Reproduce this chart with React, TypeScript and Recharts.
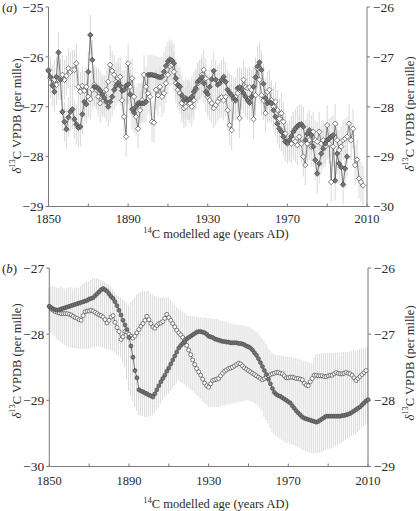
import React from 'react';
import { ComposedChart, Line, Bar, XAxis, YAxis, ErrorBar } from 'recharts';

// x axis
const YEAR_TICKS = [1850, 1870, 1890, 1910, 1930, 1950, 1970, 1990, 2010];
const YEAR_LABELS = [1850, 1890, 1930, 1970, 2010];

// panel (a) — annual values from 1850
const A_START = 1850;
const A_LEFT_TICKS = [-25, -26, -27, -28, -29];
const A_RIGHT_TICKS = [-26, -27, -28, -29, -30];
// filled diamonds, left axis (1850–2000)
const DARK_A = [
  -26.28, -26.40, -26.58, -26.70, -26.40, -25.91, -26.46, -27.10, -27.30, -27.45,
  -27.21, -27.10, -27.05, -27.25, -27.35, -27.42, -27.40, -27.15, -26.90, -26.95,
  -26.30, -25.56, -26.06, -26.60, -26.61, -26.63, -26.68, -26.75, -26.82, -26.90,
  -27.00, -26.90, -26.80, -26.66, -26.58, -26.52, -26.58, -26.68, -26.66, -26.58,
  -26.55, -26.75, -27.05, -27.12, -27.00, -26.93, -26.93, -26.93, -26.93, -26.90,
  -26.36, -26.36, -26.36, -26.37, -26.38, -26.40, -26.41, -26.40, -26.30, -26.18,
  -26.09, -26.05, -26.07, -26.13, -26.43, -26.56, -26.60, -26.77, -26.87, -26.83,
  -26.87, -26.85, -26.80, -26.70, -26.63, -26.50, -26.46, -26.41, -26.53, -26.70,
  -26.75, -26.60, -26.45, -26.28, -26.46, -26.56, -26.53, -26.46, -26.40, -26.50,
  -26.66, -26.72, -26.77, -26.83, -26.87, -26.63, -26.61, -26.66, -26.73, -26.80,
  -26.87, -26.92, -26.80, -26.60, -26.41, -26.19, -26.11, -26.26, -26.54, -26.83,
  -26.93, -26.90, -26.93, -27.07, -27.20, -27.34, -27.44, -27.50, -27.60, -27.70,
  -27.72, -27.67, -27.59, -27.50, -27.44, -27.39, -27.36, -27.35, -27.40, -27.67,
  -27.54, -27.47, -27.57, -27.80, -28.07, -28.34, -28.14, -27.94, -27.84, -27.74,
  -27.67, -27.64, -27.60, -27.57, -28.48, -27.94, -28.14, -28.21, -28.56, -28.24,
  -28.00,
];
// open diamonds, right axis (1850–2008)
const OPEN_A = [
  -27.26, -27.43, -27.56, -27.46, -27.56, -27.46, -27.43, -27.36, -27.46, -27.38,
  -27.23, -27.30, -27.26, -27.26, -27.13, -27.60, -27.70, -27.58, -27.68, -27.60,
  -27.80, -27.85, -27.66, -27.56, -27.66, -27.80, -27.93, -27.81, -27.77, -27.66,
  -27.50, -27.16, -27.28, -27.36, -27.50, -27.43, -27.40, -27.87, -28.20, -28.60,
  -27.13, -27.60, -27.43, -27.80, -28.20, -28.44, -28.07, -27.87, -27.36, -27.60,
  -27.73, -27.80, -28.30, -28.32, -27.66, -27.77, -27.60, -27.80, -27.73, -27.53,
  -27.36, -27.19, -27.16, -27.30, -27.53, -27.66, -27.73, -27.93, -28.03, -28.00,
  -27.87, -27.93, -28.00, -27.87, -27.66, -27.53, -27.46, -27.36, -27.26, -27.43,
  -27.80, -27.87, -27.93, -28.03, -27.97, -27.90, -27.83, -27.81, -27.87, -27.80,
  -28.07, -28.37, -28.47, -27.87, -27.80, -27.73, -28.23, -27.63, -27.46, -27.60,
  -27.63, -27.61, -27.66, -28.25, -27.77, -27.23, -27.46, -27.77, -27.87, -28.13,
  -27.70, -27.66, -27.87, -28.00, -27.90, -28.07, -28.24, -28.13, -28.30, -28.54,
  -28.74, -28.70, -28.74, -28.66, -28.70, -28.77, -28.60, -28.74, -29.00, -29.17,
  -28.74, -28.67, -28.80, -28.50, -28.67, -28.70, -28.50, -28.74, -28.67, -28.80,
  -28.37, -28.74, -29.51, -28.80, -28.34, -28.67, -28.87, -28.80, -28.67, -28.64,
  -28.60, -28.34, -28.67, -28.44, -29.17, -29.06, -29.44, -29.51, -29.58,
];
// analytical uncertainty (per mille)
const ERR_A = 0.4;

// panel (b) — annual values from 1850
const B_START = 1850;
const B_LEFT_TICKS = [-27, -28, -29, -30];
const B_RIGHT_TICKS = [-26, -27, -28, -29];
// filled circles, left axis (1850–2010)
const DARK_B = [
  -27.58, -27.60, -27.62, -27.63, -27.64, -27.63, -27.62, -27.61, -27.60, -27.59,
  -27.58, -27.57, -27.56, -27.55, -27.54, -27.53, -27.52, -27.51, -27.50, -27.49,
  -27.47, -27.46, -27.45, -27.42, -27.39, -27.36, -27.33, -27.31, -27.33, -27.35,
  -27.39, -27.43, -27.46, -27.51, -27.57, -27.64, -27.71, -27.79, -27.86, -27.93,
  -28.05, -28.18, -28.35, -28.55, -28.66, -28.84, -28.86, -28.87, -28.89, -28.90,
  -28.92, -28.93, -28.95, -28.90, -28.84, -28.78, -28.72, -28.67, -28.62, -28.56,
  -28.51, -28.45, -28.39, -28.33, -28.27, -28.21, -28.17, -28.14, -28.11, -28.07,
  -28.05, -28.03, -28.01, -27.99, -27.97, -27.96, -27.96, -27.97, -27.98, -28.00,
  -28.03, -28.04, -28.05, -28.07, -28.08, -28.09, -28.10, -28.11, -28.11, -28.12,
  -28.12, -28.13, -28.13, -28.13, -28.13, -28.14, -28.14, -28.15, -28.16, -28.18,
  -28.19, -28.21, -28.24, -28.28, -28.32, -28.37, -28.43, -28.49, -28.55, -28.61,
  -28.68, -28.75, -28.82, -28.88, -28.91, -28.93, -28.94, -28.96, -28.98, -29.00,
  -29.02, -29.04, -29.08, -29.12, -29.16, -29.19, -29.22, -29.25, -29.27, -29.28,
  -29.29, -29.30, -29.31, -29.32, -29.33, -29.32, -29.30, -29.28, -29.26, -29.24,
  -29.24, -29.24, -29.24, -29.24, -29.24, -29.24, -29.24, -29.23, -29.23, -29.22,
  -29.21, -29.20, -29.18, -29.16, -29.14, -29.12, -29.10, -29.07, -29.04, -29.01,
  -28.99,
];
// open circles, right axis (1850–2009)
const OPEN_B = [
  -26.58, -26.62, -26.64, -26.66, -26.67, -26.68, -26.69, -26.69, -26.69, -26.69,
  -26.70, -26.71, -26.73, -26.75, -26.76, -26.78, -26.79, -26.72, -26.66, -26.65,
  -26.65, -26.64, -26.65, -26.67, -26.69, -26.71, -26.72, -26.74, -26.78, -26.83,
  -26.79, -26.74, -26.72, -26.82, -26.90, -26.96, -27.08, -27.04, -26.96, -26.97,
  -27.00, -27.03, -27.06, -27.03, -26.98, -26.93, -26.88, -26.84, -26.79, -26.73,
  -26.78, -26.84, -26.89, -26.91, -26.87, -26.84, -26.83, -26.81, -26.76, -26.70,
  -26.75, -26.79, -26.84, -26.89, -26.94, -26.98, -27.01, -27.05, -27.09, -27.17,
  -27.24, -27.31, -27.39, -27.46, -27.52, -27.57, -27.62, -27.68, -27.74, -27.78,
  -27.80, -27.75, -27.70, -27.69, -27.68, -27.67, -27.63, -27.59, -27.56, -27.54,
  -27.52, -27.51, -27.50, -27.48, -27.46, -27.44, -27.45, -27.48, -27.51, -27.53,
  -27.55, -27.57, -27.59, -27.61, -27.63, -27.65, -27.67, -27.69, -27.67, -27.65,
  -27.63, -27.61, -27.60, -27.59, -27.58, -27.58, -27.59, -27.60, -27.63, -27.66,
  -27.66, -27.65, -27.65, -27.66, -27.67, -27.67, -27.68, -27.69, -27.74, -27.77,
  -27.78, -27.72, -27.67, -27.62, -27.62, -27.63, -27.63, -27.63, -27.64, -27.64,
  -27.63, -27.62, -27.62, -27.60, -27.58, -27.59, -27.60, -27.60, -27.59, -27.58,
  -27.59, -27.60, -27.62, -27.66, -27.70, -27.67, -27.64, -27.61, -27.58, -27.55,
];
// grey uncertainty envelope, left axis (1850–2010)
const BAND_B_HI = [
  -27.30, -27.28, -27.27, -27.29, -27.30, -27.30, -27.28, -27.30, -27.31, -27.30,
  -27.30, -27.29, -27.31, -27.30, -27.29, -27.30, -27.27, -27.24, -27.22, -27.20,
  -27.20, -27.18, -27.16, -27.15, -27.16, -27.16, -27.18, -27.20, -27.22, -27.24,
  -27.25, -27.28, -27.32, -27.36, -27.40, -27.42, -27.45, -27.48, -27.50, -27.53,
  -27.55, -27.52, -27.48, -27.45, -27.40, -27.38, -27.36, -27.35, -27.35, -27.35,
  -27.35, -27.38, -27.40, -27.42, -27.44, -27.45, -27.45, -27.45, -27.45, -27.45,
  -27.45, -27.48, -27.52, -27.56, -27.59, -27.62, -27.64, -27.66, -27.68, -27.70,
  -27.72, -27.72, -27.73, -27.73, -27.74, -27.74, -27.74, -27.75, -27.75, -27.75,
  -27.75, -27.76, -27.76, -27.77, -27.77, -27.78, -27.79, -27.80, -27.81, -27.81,
  -27.82, -27.83, -27.84, -27.85, -27.85, -27.86, -27.86, -27.87, -27.87, -27.88,
  -27.88, -27.90, -27.92, -27.94, -27.96, -27.98, -28.02, -28.06, -28.10, -28.15,
  -28.20, -28.24, -28.28, -28.30, -28.31, -28.32, -28.32, -28.33, -28.33, -28.34,
  -28.34, -28.35, -28.35, -28.36, -28.36, -28.37, -28.38, -28.39, -28.40, -28.41,
  -28.42, -28.44, -28.44, -28.36, -28.31, -28.30, -28.30, -28.29, -28.29, -28.29,
  -28.29, -28.29, -28.28, -28.28, -28.28, -28.28, -28.28, -28.27, -28.27, -28.27,
  -28.27, -28.26, -28.26, -28.25, -28.25, -28.24, -28.23, -28.22, -28.22, -28.21,
  -28.20,
];
const BAND_B_LO = [
  -27.95, -27.98, -28.01, -28.04, -28.07, -28.10, -28.12, -28.14, -28.16, -28.18,
  -28.20, -28.20, -28.21, -28.21, -28.22, -28.22, -28.22, -28.22, -28.22, -28.22,
  -28.22, -28.21, -28.20, -28.19, -28.18, -28.18, -28.19, -28.20, -28.21, -28.22,
  -28.22, -28.24, -28.26, -28.28, -28.30, -28.32, -28.36, -28.42, -28.50, -28.68,
  -28.85, -28.93, -29.01, -29.10, -29.16, -29.22, -29.23, -29.24, -29.25, -29.25,
  -29.25, -29.24, -29.22, -29.20, -29.15, -29.10, -29.05, -29.00, -28.96, -28.93,
  -28.90, -28.86, -28.82, -28.78, -28.74, -28.70, -28.72, -28.74, -28.76, -28.78,
  -28.80, -28.83, -28.86, -28.89, -28.92, -28.95, -28.98, -29.01, -29.04, -29.07,
  -29.10, -29.10, -29.10, -29.10, -29.10, -29.10, -29.09, -29.08, -29.08, -29.07,
  -29.06, -29.06, -29.05, -29.04, -29.04, -29.03, -29.02, -29.02, -29.01, -29.00,
  -29.00, -29.01, -29.02, -29.04, -29.06, -29.08, -29.12, -29.16, -29.25, -29.30,
  -29.35, -29.42, -29.48, -29.51, -29.54, -29.56, -29.58, -29.60, -29.62, -29.64,
  -29.65, -29.66, -29.67, -29.68, -29.69, -29.70, -29.72, -29.74, -29.76, -29.77,
  -29.78, -29.79, -29.80, -29.80, -29.80, -29.80, -29.79, -29.78, -29.76, -29.75,
  -29.74, -29.73, -29.72, -29.70, -29.69, -29.68, -29.66, -29.64, -29.62, -29.60,
  -29.58, -29.56, -29.54, -29.52, -29.50, -29.48, -29.45, -29.42, -29.39, -29.37,
  -29.35,
];

const darkARows = DARK_A.map((v, i) => ({ year: A_START + i, v, err: ERR_A }));
const openARows = OPEN_A.map((v, i) => ({ year: A_START + i, v, err: ERR_A }));
const bandRows = BAND_B_HI.map((hi, i) => ({ year: B_START + i, band: [BAND_B_LO[i], hi] }));
const darkBRows = DARK_B.map((v, i) => ({ year: B_START + i, v }));
const openBRows = OPEN_B.map((v, i) => ({ year: B_START + i, v }));

const FONT = '"Liberation Serif", "Times New Roman", serif';
const AXIS = '#7a7a7a';
const INK = '#2a2a2a';
const Y_TICK = { fill: INK, fontSize: 13.5, fontFamily: FONT };
const X_TICK = { fill: INK, fontSize: 12.5, fontFamily: FONT };
const minus = (v: number) => String(v).replace('-', '\u2212');
const yearFmt = (v: number) => (YEAR_LABELS.includes(v) ? String(v) : '');

const diamond = (fill: string, stroke: string) => (p: any) => {
  const { cx, cy, index } = p;
  if (cx == null || cy == null) return <g key={index} />;
  const r = 2.7;
  return (
    <path
      key={index}
      d={`M${cx},${cy - r}L${cx + r},${cy}L${cx},${cy + r}L${cx - r},${cy}Z`}
      fill={fill}
      stroke={stroke}
      strokeWidth={0.7}
    />
  );
};

function YTitle({ x, y }: { x: number; y: number }) {
  return (
    <text
      transform={`translate(${x},${y}) rotate(-90)`}
      textAnchor="middle"
      fontFamily={FONT}
      fontSize={12.5}
      fill={INK}
      dominantBaseline="central"
    >
      <tspan fontStyle="italic">δ</tspan>
      <tspan baselineShift="super" fontSize={8.5}>13</tspan>
      <tspan>C VPDB (per mille)</tspan>
    </text>
  );
}

function XTitle({ y }: { y: number }) {
  return (
    <text x={216} y={y} textAnchor="middle" fontFamily={FONT} fontSize={12.5} fill={INK}>
      <tspan baselineShift="super" fontSize={8.5}>14</tspan>
      <tspan>C modelled age (years AD)</tspan>
    </text>
  );
}

function PanelTag({ y, letter }: { y: number; letter: string }) {
  return (
    <text x={2} y={y} fontFamily={FONT} fontSize={13} fill={INK}>
      (<tspan fontStyle="italic">{letter}</tspan>)
    </text>
  );
}

export default function App() {
  return (
    <div style={{ position: 'absolute', left: 0, top: 0, width: 416, height: 511, background: '#fff' }}>
      <div style={{ position: 'absolute', left: 0, top: 0 }}>
        <ComposedChart width={416} height={250} data={openARows} margin={{ top: 7, right: 0, bottom: 0, left: 0 }}>
          <XAxis
            dataKey="year"
            type="number"
            domain={[1850, 2010]}
            ticks={YEAR_TICKS}
            tickFormatter={yearFmt}
            interval={0}
            height={43.5}
            tickSize={-3}
            tickMargin={10.5}
            stroke={AXIS}
            tick={X_TICK}
          />
          <YAxis
            yAxisId="L"
            domain={[-29, -25]}
            ticks={A_LEFT_TICKS}
            tickFormatter={minus}
            interval={0}
            width={48.5}
            tickSize={3}
            tickMargin={2}
            stroke={AXIS}
            tick={Y_TICK}
            allowDataOverflow
          />
          <YAxis
            yAxisId="R"
            orientation="right"
            domain={[-30, -26]}
            ticks={A_RIGHT_TICKS}
            tickFormatter={minus}
            interval={0}
            width={49}
            tickSize={3}
            tickMargin={3}
            stroke={AXIS}
            tick={Y_TICK}
            allowDataOverflow
          />
          <Line yAxisId="L" data={darkARows} dataKey="v" stroke="none" dot={false} activeDot={false} isAnimationActive={false}>
            <ErrorBar dataKey="err" width={0} stroke="#d9d9d9" strokeWidth={1} direction="y" />
          </Line>
          <Line yAxisId="R" data={openARows} dataKey="v" stroke="none" dot={false} activeDot={false} isAnimationActive={false}>
            <ErrorBar dataKey="err" width={0} stroke="#d9d9d9" strokeWidth={1} direction="y" />
          </Line>
          <Line
            yAxisId="R"
            data={openARows}
            dataKey="v"
            stroke="#555"
            strokeWidth={0.7}
            dot={diamond('#ffffff', '#4a4a4a')}
            activeDot={false}
            isAnimationActive={false}
          />
          <Line
            yAxisId="L"
            data={darkARows}
            dataKey="v"
            stroke="#444"
            strokeWidth={0.7}
            dot={diamond('#747474', '#404040')}
            activeDot={false}
            isAnimationActive={false}
          />
        </ComposedChart>
      </div>

      <div style={{ position: 'absolute', left: 0, top: 255 }}>
        <ComposedChart width={416} height={256} data={bandRows} margin={{ top: 13, right: 0, bottom: 0, left: 0 }}>
          <XAxis
            dataKey="year"
            type="number"
            domain={[1850, 2010]}
            ticks={YEAR_TICKS}
            tickFormatter={yearFmt}
            interval={0}
            height={44.5}
            tickSize={-3}
            tickMargin={13}
            stroke={AXIS}
            tick={X_TICK}
          />
          <YAxis
            yAxisId="L"
            domain={[-30, -27]}
            ticks={B_LEFT_TICKS}
            tickFormatter={minus}
            interval={0}
            width={49.3}
            tickSize={3}
            tickMargin={2}
            stroke={AXIS}
            tick={Y_TICK}
            allowDataOverflow
          />
          <YAxis
            yAxisId="R"
            orientation="right"
            domain={[-29, -26]}
            ticks={B_RIGHT_TICKS}
            tickFormatter={minus}
            interval={0}
            width={48}
            tickSize={3}
            tickMargin={3}
            stroke={AXIS}
            tick={Y_TICK}
            allowDataOverflow
          />
          <Bar yAxisId="L" dataKey="band" barSize={1} fill="#dadada" isAnimationActive={false} />
          <Line
            yAxisId="R"
            data={openBRows}
            dataKey="v"
            stroke="#555"
            strokeWidth={0.7}
            dot={{ r: 2, fill: '#ffffff', stroke: '#4a4a4a', strokeWidth: 0.7 }}
            activeDot={false}
            isAnimationActive={false}
          />
          <Line
            yAxisId="L"
            data={darkBRows}
            dataKey="v"
            stroke="#444"
            strokeWidth={0.7}
            dot={{ r: 2, fill: '#777777', stroke: '#404040', strokeWidth: 0.6 }}
            activeDot={false}
            isAnimationActive={false}
          />
        </ComposedChart>
      </div>

      <svg width={416} height={511} style={{ position: 'absolute', left: 0, top: 0, pointerEvents: 'none' }}>
        <PanelTag y={11.5} letter="a" />
        <YTitle x={17} y={116} />
        <YTitle x={410} y={114} />
        <XTitle y={237.5} />
        <PanelTag y={273} letter="b" />
        <YTitle x={17} y={361} />
        <YTitle x={410} y={363} />
        <XTitle y={508} />
      </svg>
    </div>
  );
}
